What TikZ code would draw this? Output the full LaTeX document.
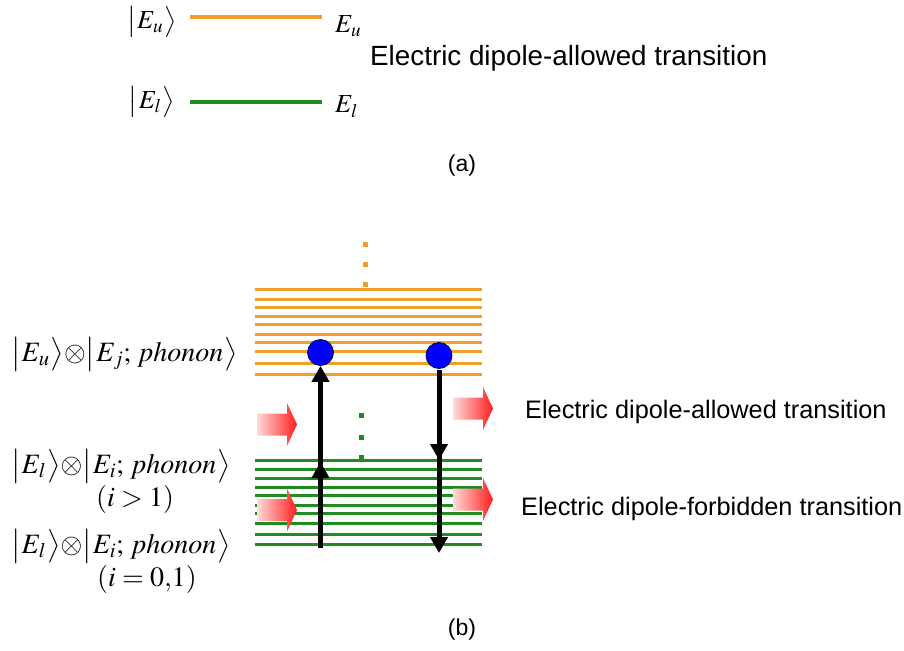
\documentclass[tikz,border=0pt]{standalone}
\usepackage{mathptmx}
\usepackage[no-math]{fontspec}
\setsansfont{Liberation Sans}
\usetikzlibrary{arrows.meta}
\definecolor{lvorange}{RGB}{240,160,40}
\definecolor{lvgreen}{RGB}{30,140,30}
\definecolor{pinklight}{RGB}{255,218,218}
\definecolor{arrred}{RGB}{255,30,30}
\newcommand{\kopen}[1]{\mathopen{\left|\vcenter to #1{}\right.}}
\newcommand{\kclose}[1]{\mathclose{\left.\vcenter to #1{}\right\rangle}}
\newcommand{\keta}[1]{\kopen{31pt}#1\kclose{31pt}}
\newcommand{\ketb}[1]{\kopen{33pt}#1\kclose{33pt}}
\begin{document}
\begin{tikzpicture}[x=1pt,y=-1pt,
  olevel/.style={line width=3pt, draw=lvorange},
  glevel/.style={line width=3pt, draw=lvgreen},
  alevel/.style={line width=4pt},
  mathlbl/.style={font=\fontsize{26}{30}\selectfont, inner sep=0pt},
  mathlblb/.style={font=\fontsize{28}{32}\selectfont, inner sep=0pt},
  sftext/.style={font=\sffamily\fontsize{25.3}{30}\selectfont, inner sep=0pt},
  bigsf/.style={font=\sffamily\fontsize{27.8}{32}\selectfont, inner sep=0pt},
  caplbl/.style={font=\sffamily\fontsize{23}{28}\selectfont, inner sep=0pt},
  transarrow/.style={line width=5pt, -{Triangle[width=17pt,length=16pt]}},
  electron/.style={circle, fill=blue, draw=blue!30!black, line width=0.8pt, minimum size=26pt, inner sep=0pt},
  odot/.style={fill=lvorange, minimum size=5pt, inner sep=0pt},
  gdot/.style={fill=lvgreen, minimum size=5pt, inner sep=0pt},
  redarr/.pic={\shade[left color=pinklight, right color=arrred]
     (0,-11) -- (30,-11) -- (30,-21.5) -- (40,0) -- (30,21.5) -- (30,11) -- (0,11) -- cycle;}
]
\useasboundingbox (0,0) rectangle (904,650);

% ---------- (a) ----------
\node[mathlbl] (ku) at (152,22) {$\keta{E_u}$};
\node[mathlbl] (kl) at (152,102) {$\keta{E_l}$};
\coordinate (ua) at (190,17); \coordinate (ub) at (322,17);
\coordinate (la) at (190,102); \coordinate (lb) at (322,102);
\draw[alevel, lvorange] (ua) -- (ub);
\draw[alevel, lvgreen] (la) -- (lb);
\node[mathlbl, anchor=base west] (eu) at (335,33) {$E_u$};
\node[mathlbl, anchor=base west] (el) at (335,113) {$E_l$};
\node[bigsf, anchor=base west] (ta) at (370,66) {Electric dipole-allowed transition};
\node[caplbl] (capa) at (462,166) {(a)};

% ---------- (b) ----------
\foreach \y in {289,299,307.3,316.7,324.7,334.3,342.3,351.7,363.7,374}
  \draw[olevel] (255,\y) -- (482,\y);
\foreach \y in {460,469.3,478,487.7,495.7,505.3,513.7,523.3,534.3,544.3}
  \draw[glevel] (255,\y) -- (482,\y);

\node[odot] (od1) at (365,244) {};
\node[odot] (od2) at (365,264) {};
\node[odot] (od3) at (365,284) {};
\node[gdot] (gd1) at (361,415) {};
\node[gdot] (gd2) at (361,437) {};
\node[gdot] (gd3) at (361,457) {};

\pic at (257,424.5) {redarr};
\pic at (257,510) {redarr};
\pic at (453,408.5) {redarr};
\pic at (453,499.5) {redarr};

\node[electron] (c1) at (320.5,352.5) {};
\node[electron] (c2) at (439,355.5) {};

\coordinate (lbot) at (320.5,548);
\coordinate (lmid) at (320.5,462);
\coordinate (rmid) at (439,460);
\coordinate (rbot) at (439,553);
\coordinate (rtop) at (439,370);
\draw[transarrow] (lbot) -- (c1.south);
\draw[transarrow] (lbot) -- (lmid);
\draw[transarrow] (rtop) -- (rbot);
\draw[transarrow] (rtop) -- (rmid);

\node[mathlblb, anchor=west] (su) at (11,354) {$\ketb{E_u}{\otimes}\ketb{E_j;\,phonon}$};
\node[mathlblb, anchor=west] (sl) at (11,466) {$\ketb{E_l}{\otimes}\ketb{E_i;\,phonon}$};
\node[mathlblb, anchor=west] (ig) at (96,499) {$(i>1)$};
\node[mathlblb, anchor=west] (sl0) at (11,546) {$\ketb{E_l}{\otimes}\ketb{E_i;\,phonon}$};
\node[mathlblb, anchor=west] (i0) at (97,579) {$(i=0{,}1)$};

\node[sftext, anchor=base west] (tb1) at (525,418) {Electric dipole-allowed transition};
\node[sftext, anchor=base west] (tb2) at (521,515) {Electric dipole-forbidden transition};
\node[caplbl] (capb) at (462,630) {(b)};
\end{tikzpicture}
\end{document}
